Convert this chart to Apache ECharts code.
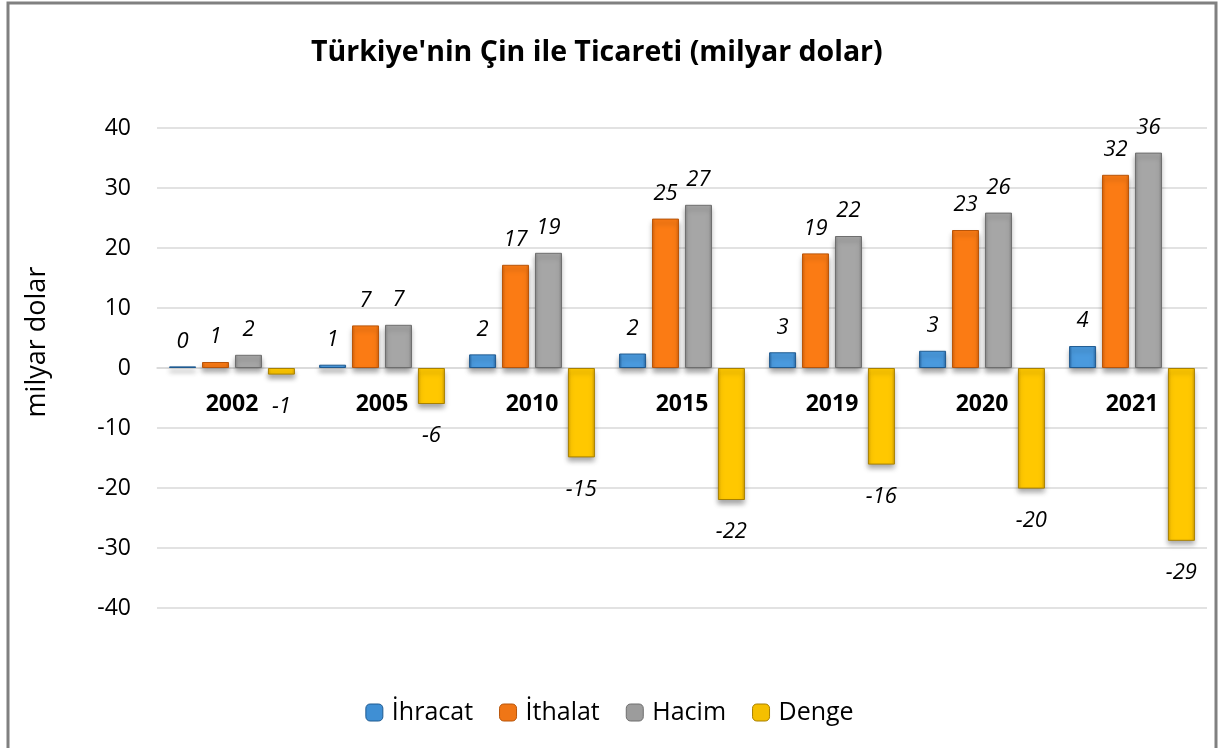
<!DOCTYPE html>
<html>
<head>
<meta charset="utf-8">
<script src="https://cdn.jsdelivr.net/npm/echarts@6/dist/echarts.min.js"></script>
<style>
html,body{margin:0;padding:0;background:#fff;}
#main{width:1219px;height:748px;}
</style>
</head>
<body>
<div id="main"></div>
<script>
const categories = ['2002', '2005', '2010', '2015', '2019', '2020', '2021'];
const ihracat = [0.27, 0.55, 2.27, 2.41, 2.62, 2.87, 3.66];
const ithalat = [1.0, 7.1, 17.2, 24.9, 19.1, 23.0, 32.2];
const hacim = [2.2, 7.2, 19.2, 27.2, 22.0, 25.9, 35.9];
const denge = [-1.1, -6.0, -14.9, -22.0, -16.1, -20.1, -28.8];
const yTicks = [-40, -30, -20, -10, 0, 10, 20, 30, 40];
const seriesNames = ['İhracat', 'İthalat', 'Hacim', 'Denge'];
const yAxisTitle = 'milyar dolar';
const chartTitle = "Türkiye'nin Çin ile Ticareti (milyar dolar)";

const FONT = 'Open Sans';

function grad(edge, mid) {
  return {
    type: 'linear', x: 0, y: 0, x2: 1, y2: 0,
    colorStops: [
      {offset: 0, color: edge},
      {offset: 0.12, color: mid},
      {offset: 0.88, color: mid},
      {offset: 1, color: edge}
    ]
  };
}

const styles = [
  {edge: '#2a6aa8', mid: '#4a9ade', border: '#1f5a90', legend: '#3f8fd4'},
  {edge: '#d9650c', mid: '#fb7b14', border: '#b8550a', legend: '#f07616'},
  {edge: '#8a8a8a', mid: '#a6a6a6', border: '#6e6e6e', legend: '#9c9c9c'},
  {edge: '#e0a800', mid: '#ffc800', border: '#a88000', legend: '#f5bf00'}
];

const dataSets = [ihracat, ithalat, hacim, denge];

const series = dataSets.map((d, i) => ({
  name: seriesNames[i],
  type: 'bar',
  data: d,
  barWidth: 27,
  barGap: '22%',
  itemStyle: {
    color: grad(styles[i].edge, styles[i].mid),
    borderColor: styles[i].border,
    borderWidth: 1,
    shadowColor: 'rgba(0,0,0,0.35)',
    shadowBlur: 5,
    shadowOffsetY: 4
  },
  label: {
    show: true,
    position: i === 3 ? 'bottom' : 'top',
    distance: i === 3 ? 21 : 14,
    fontFamily: FONT,
    fontStyle: 'italic',
    fontSize: 22,
    color: '#000',
    formatter: p => String(Math.round(p.value))
  }
}));

const chart = echarts.init(document.getElementById('main'), null, {renderer: 'canvas'});
chart.setOption({
  animation: false,
  backgroundColor: '#fff',
  title: {
    text: chartTitle,
    left: 306,
    top: 33,
    textStyle: {fontFamily: FONT, fontWeight: 'bold', fontSize: 28.5, color: '#000'}
  },
  legend: {
    top: 695,
    left: 'center',
    itemWidth: 17,
    itemHeight: 17,
    itemGap: 26,
    data: seriesNames.map((n, i) => ({name: n, itemStyle: {color: styles[i].legend, borderColor: styles[i].border, borderWidth: 1}})),
    textStyle: {fontFamily: FONT, fontSize: 25, color: '#000', padding: [0, 0, 0, 4]}
  },
  grid: {left: 157, right: 12, top: 128, bottom: 140, containLabel: false},
  xAxis: {
    type: 'category',
    data: categories,
    position: 'bottom',
    offset: -240,
    axisLine: {onZero: false, lineStyle: {color: '#d9d9d9', width: 1.5}},
    axisTick: {show: false},
    axisLabel: {fontFamily: FONT, fontWeight: 'bold', fontSize: 23, color: '#000', margin: 25}
  },
  yAxis: {
    type: 'value',
    min: yTicks[0],
    max: yTicks[yTicks.length - 1],
    interval: 10,
    axisLine: {show: false},
    axisTick: {show: false},
    axisLabel: {fontFamily: FONT, fontSize: 23, color: '#000', margin: 26},
    splitLine: {lineStyle: {color: '#d9d9d9', width: 1.5}}
  },
  graphic: [{
    type: 'rect',
    shape: {x: 8, y: 3, width: 1208, height: 800},
    style: {fill: 'none', stroke: '#808080', lineWidth: 3},
    silent: true
  }, {
    type: 'text',
    x: 37,
    y: 342,
    rotation: Math.PI / 2,
    style: {text: yAxisTitle, fontFamily: FONT, fontSize: 27, fill: '#000', align: 'center', verticalAlign: 'middle'},
    silent: true
  }],
  series: series
});
</script>
</body>
</html>
